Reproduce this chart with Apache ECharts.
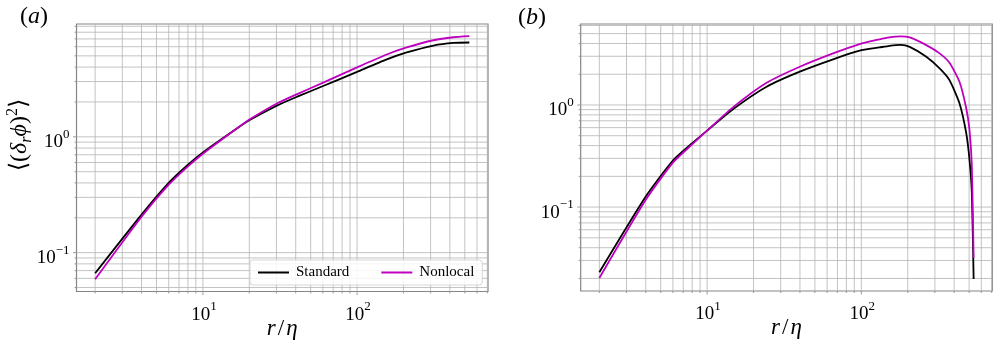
<!DOCTYPE html>
<html>
<head>
<meta charset="utf-8">
<script src="https://cdn.jsdelivr.net/npm/echarts@6/dist/echarts.min.js"></script>
<style>
  html, body { margin: 0; padding: 0; background: #fff; }
  #chart { width: 993px; height: 342px; }
</style>
</head>
<body>
<div id="chart"></div>
<script>
// panel (a)
const rLeft = [2, 4, 6, 8, 10, 16.6, 20.4, 30.4, 40.9, 60.8, 100, 156, 210, 313, 421, 535];
const stdLeft = [0.0664, 0.213, 0.400, 0.574, 0.733, 1.18, 1.41, 1.87, 2.22, 2.76, 3.64, 4.66, 5.35, 6.14, 6.47, 6.52];
const nonLeft = [0.0589, 0.204, 0.386, 0.556, 0.714, 1.18, 1.43, 1.95, 2.34, 2.95, 3.98, 5.14, 5.91, 6.82, 7.24, 7.39];

// panel (b)
const rRight = [2, 4, 6, 8, 10, 14.7, 24.3, 39.9, 65.6, 97.5, 131, 152, 180, 206, 264, 322, 373, 433, 479, 503, 521, 535];
const stdRight = [0.0230, 0.127, 0.286, 0.422, 0.561, 0.908, 1.51, 2.12, 2.80, 3.40, 3.66, 3.80, 3.88, 3.71, 2.97, 2.28, 1.75, 1.04, 0.53, 0.29, 0.137, 0.0198];
const nonRight = [0.0202, 0.118, 0.273, 0.412, 0.561, 0.948, 1.65, 2.37, 3.20, 3.95, 4.39, 4.59, 4.70, 4.59, 3.86, 3.20, 2.59, 1.69, 0.93, 0.57, 0.249, 0.0317];

const seriesNames = ["Standard", "Nonlocal"];
const xLabelValues = [10, 100];
const yLabelValues = [0.1, 1];

const xRange = [1.514, 707];
const yRangeLeft = [0.0462, 9.42];
const yRangeRight = [0.01507, 6.21];

const serif = "'Liberation Serif', 'DejaVu Serif', serif";
const gridColor = "#b4b4b4";
const spineColor = "#858585";

function pairs(xs, ys) {
  return xs.map((x, i) => [x, ys[i]]);
}

// every 1..9 x 10^k value inside [lo, hi]
function logTicks(lo, hi) {
  const out = [];
  for (let e = -3; e <= 3; e++) {
    for (let k = 1; k <= 9; k++) {
      const v = k * Math.pow(10, e);
      if (v >= lo && v <= hi) out.push({ v: v, major: k === 1 });
    }
  }
  return out;
}

function powLabel(v) {
  const n = Math.round(Math.log10(v));
  const s = n < 0 ? "\u2212" + Math.abs(n) : String(n);
  return "{b|10}{s|" + s + "}";
}

const powRich = {
  b: { fontFamily: serif, fontSize: 19, lineHeight: 24, verticalAlign: "bottom", fill: "#000" },
  s: { fontFamily: serif, fontSize: 13, lineHeight: 13, verticalAlign: "top", fill: "#000" },
};

const chart = echarts.init(document.getElementById("chart"));

function lineSeries(name, data, color, idx) {
  return {
    name: name,
    type: "line",
    xAxisIndex: idx,
    yAxisIndex: idx,
    data: data,
    symbol: "none",
    smooth: 0.2,
    z: 5,
    lineStyle: { color: color, width: 1.8 },
    itemStyle: { color: color },
  };
}

function axisBase(range) {
  return {
    type: "log",
    logBase: 10,
    min: range[0],
    max: range[1],
    axisLine: { show: false },
    axisTick: { show: false },
    axisLabel: { show: false },
    splitLine: { show: false },
  };
}

chart.setOption({
  animation: false,
  grid: [
    { left: 76.5, top: 24, width: 411.5, height: 267.5, show: true, borderColor: spineColor, borderWidth: 1.2, backgroundColor: "transparent" },
    { left: 580.7, top: 24, width: 411.6, height: 267, show: true, borderColor: spineColor, borderWidth: 1.2, backgroundColor: "transparent" },
  ],
  xAxis: [
    Object.assign(axisBase(xRange), { gridIndex: 0 }),
    Object.assign(axisBase(xRange), { gridIndex: 1 }),
  ],
  yAxis: [
    Object.assign(axisBase(yRangeLeft), { gridIndex: 0 }),
    Object.assign(axisBase(yRangeRight), { gridIndex: 1 }),
  ],
  legend: {
    data: seriesNames,
    icon: "rect",
    left: 250,
    top: 260,
    padding: [5, 8],
    itemWidth: 31,
    itemHeight: 2,
    itemGap: 32,
    backgroundColor: "rgba(255,255,255,0.85)",
    borderColor: "#d6d6d6",
    borderWidth: 1,
    borderRadius: 3,
    textStyle: { fontFamily: serif, fontSize: 15, color: "#000", padding: [0, 0, 0, 2] },
    z: 10,
  },
  series: [
    lineSeries(seriesNames[0], pairs(rLeft, stdLeft), "#000000", 0),
    lineSeries(seriesNames[1], pairs(rLeft, nonLeft), "#bf00bf", 0),
    lineSeries(seriesNames[0], pairs(rRight, stdRight), "#000000", 1),
    lineSeries(seriesNames[1], pairs(rRight, nonRight), "#bf00bf", 1),
  ],
});

// grid lines, ticks and tick labels placed through the axes' own scales
const graphics = [];
const panels = [
  { idx: 0, yRange: yRangeLeft },
  { idx: 1, yRange: yRangeRight },
];

panels.forEach((p) => {
  const tl = chart.convertToPixel({ gridIndex: p.idx }, [xRange[0], p.yRange[1]]);
  const br = chart.convertToPixel({ gridIndex: p.idx }, [xRange[1], p.yRange[0]]);
  const left = tl[0], top = tl[1], right = br[0], bottom = br[1];

  logTicks(xRange[0], xRange[1]).forEach((t) => {
    const x = chart.convertToPixel({ gridIndex: p.idx }, [t.v, p.yRange[0]])[0];
    graphics.push({ type: "line", silent: true, z: 1, shape: { x1: x, y1: top, x2: x, y2: bottom }, style: { stroke: gridColor, lineWidth: 0.8 } });
    const len = t.major ? 3.5 : 2;
    graphics.push({ type: "line", silent: true, z: 2, shape: { x1: x, y1: bottom, x2: x, y2: bottom + len }, style: { stroke: spineColor, lineWidth: 0.8 } });
  });

  logTicks(p.yRange[0], p.yRange[1]).forEach((t) => {
    const y = chart.convertToPixel({ gridIndex: p.idx }, [xRange[0], t.v])[1];
    graphics.push({ type: "line", silent: true, z: 1, shape: { x1: left, y1: y, x2: right, y2: y }, style: { stroke: gridColor, lineWidth: 0.8 } });
    const len = t.major ? 3.5 : 2;
    graphics.push({ type: "line", silent: true, z: 2, shape: { x1: left - len, y1: y, x2: left, y2: y }, style: { stroke: spineColor, lineWidth: 0.8 } });
  });

  xLabelValues.forEach((v) => {
    const x = chart.convertToPixel({ gridIndex: p.idx }, [v, p.yRange[0]])[0];
    graphics.push({
      type: "text", silent: true, z: 3, x: x + 1, y: bottom + 9,
      style: { text: powLabel(v), rich: powRich, align: "center", verticalAlign: "top" },
    });
  });

  yLabelValues.forEach((v) => {
    const y = chart.convertToPixel({ gridIndex: p.idx }, [xRange[0], v])[1];
    graphics.push({
      type: "text", silent: true, z: 3, x: left - 7, y: y + 3,
      style: { text: powLabel(v), rich: powRich, align: "right", verticalAlign: "middle" },
    });
  });

  graphics.push({
    type: "text", silent: true, z: 3, x: (left + right) / 2, y: bottom + 37,
    style: {
      text: "{i|r}{n|/}{i|\u03b7}",
      align: "center", verticalAlign: "middle",
      rich: {
        i: { fontFamily: serif, fontSize: 23, fontStyle: "italic", fill: "#000" },
        n: { fontFamily: serif, fontSize: 23, fill: "#000", padding: [0, 2] },
      },
    },
  });
});

// y axis title of panel (a)
graphics.push({
  type: "text", silent: true, z: 3, x: 20, y: 135, rotation: Math.PI / 2,
  style: {
    text: "{n|\u27e8(}{i|\u03b4}{sub|r}{i|\u03d5}{n|)}{sup|2}{n|\u27e9}",
    align: "center", verticalAlign: "middle",
    rich: {
      n: { fontFamily: serif, fontSize: 24, lineHeight: 30, verticalAlign: "middle", fill: "#000" },
      i: { fontFamily: serif, fontSize: 24, lineHeight: 30, fontStyle: "italic", verticalAlign: "middle", fill: "#000" },
      sub: { fontFamily: serif, fontSize: 16, lineHeight: 16, fontStyle: "italic", verticalAlign: "bottom", fill: "#000" },
      sup: { fontFamily: serif, fontSize: 16, lineHeight: 16, verticalAlign: "top", fill: "#000" },
    },
  },
});

// panel letters
[["a", 34, 17], ["b", 532, 18]].forEach((l) => {
  graphics.push({
    type: "text", silent: true, z: 3, x: l[1], y: l[2],
    style: {
      text: "{n|(}{i|" + l[0] + "}{n|)}",
      align: "center", verticalAlign: "middle",
      rich: {
        n: { fontFamily: serif, fontSize: 24, fill: "#000" },
        i: { fontFamily: serif, fontSize: 24, fontStyle: "italic", fill: "#000" },
      },
    },
  });
});

chart.setOption({ graphic: graphics });
</script>
</body>
</html>
